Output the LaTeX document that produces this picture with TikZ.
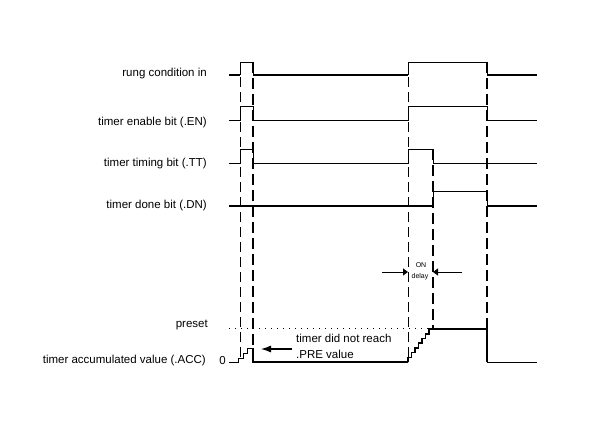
\documentclass[tikz,border=0pt]{standalone}
\usepackage{fontspec}
\setmainfont{Liberation Sans}
\usetikzlibrary{arrows.meta,positioning}
\tikzset{
  td/label/.style={anchor=base east, inner sep=0pt, font=\fontsize{11.5}{14}\selectfont},
  td/note/.style={anchor=west, inner sep=0pt, align=left, font=\fontsize{11.5}{16}\selectfont},
  td/tiny/.style={inner sep=0pt, font=\fontsize{7}{8}\selectfont},
  td/thin/.style={line width=0.9pt},
  td/bold/.style={line width=2pt},
  td/mark/.style={td/thin, dash pattern=on 10pt off 5pt},
  td/markbold/.style={td/bold, dash pattern=on 11pt off 5pt},
  td/preset/.style={line width=0.9pt, dash pattern=on 1.2pt off 4.8pt},
  td/arrow/.style={line width=1.1pt, -{Latex[length=10pt,width=7pt]}},
  td/delay/.style={line width=0.9pt, -{Triangle[length=5pt,width=7pt]}}
}

\begin{document}
\begin{tikzpicture}[x=1pt, y=-1pt]
  \useasboundingbox (0,0) rectangle (593,433);

  % signal names
  \node[td/label] (rung) at (207,77) {rung condition in};
  \node[td/label] (en) at (207,125) {timer enable bit (.EN)};
  \node[td/label] (tt) at (207,166) {timer timing bit (.TT)};
  \node[td/label] (dn) at (207,208) {timer done bit (.DN)};
  \node[td/label] (preset) at (208,327) {preset};
  \node[td/label] (acc) at (206,363) {timer accumulated value (.ACC)};
  \node[td/label] (zero) at (226,364) {0};

  % transition markers
  \draw[td/mark] (240,62) -- (240,358);
  \draw[td/mark] (408,62) -- (408,362);
  \draw[td/markbold] (253,62) -- (253,362);
  \draw[td/markbold] (433,149) -- (433,329);
  \draw[td/markbold] (487,62) -- (487,362);

  % rung condition in
  \draw[td/bold] (229,75) -- (240,75);
  \draw[td/thin] (240,75) |- (253,62) -- (253,75);
  \draw[td/bold] (253,75) -- (408,75);
  \draw[td/thin] (408,75) |- (487,62) -- (487,75);
  \draw[td/bold] (487,75) -- (537,75);

  % .EN and .TT
  \draw[td/thin] (229,120) -- (240,120) |- (253,106) |- (408,120) |- (487,106) |- (537,120);
  \draw[td/thin] (229,163) -- (240,163) |- (253,149) |- (408,163) |- (433,149) |- (537,163);

  % .DN
  \draw[td/bold] (229,206) -- (433,206);
  \draw[td/thin] (433,206) |- (487,191) -- (487,206);
  \draw[td/bold] (487,206) -- (537,206);

  % .ACC
  \draw[td/preset] (229,328) -- (433,328);
  \draw[td/thin] (229,362) -- (238,362) -- (238,358) -- (243,358) -- (243,353)
    -- (247,353) -- (247,348) -- (253,348);
  \draw[td/bold] (253,348) -- (253,362) -- (408,362);
  \draw[line width=1.5pt] (408,362) \foreach \s in {1,...,7} { -- ++(0,-4.7) -- ++(3.5,0) };
  \draw[td/bold] (432,329) -- (487,329) -- (487,362);
  \draw[td/thin] (487,362) -- (537,362);

  % ON delay
  \coordinate (delayL) at (382,272);
  \coordinate (delayR) at (462,272);
  \coordinate (onstart) at (408,272);
  \coordinate (onend) at (433,272);
  \draw[td/delay] (delayL) -- (onstart);
  \draw[td/delay] (delayR) -- (onend);
  \node[td/tiny] (on) at (421,265) {ON};
  \node[td/tiny] (delay) at (420,277) {delay};

  % note
  \node[td/note] (note) at (296,346) {timer did not reach\\.PRE value};
  \coordinate (accpeak) at (261,349);
  \draw[td/arrow] (note.west |- accpeak) ++(-4,0) -- (accpeak);
\end{tikzpicture}
\end{document}
